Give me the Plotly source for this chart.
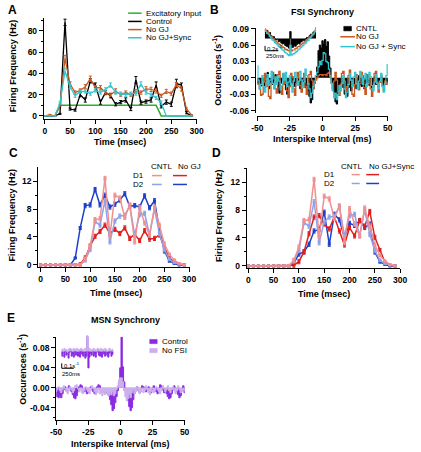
import plotly.graph_objects as go

W, H = 421, 452
FONT = "Liberation Sans, Arial, Helvetica, sans-serif"

# ---------------- DATA ----------------
TIME = list(range(0, 300, 10))

# Panel A
A_EXC = [0, 0, 0, 10, 10, 10, 10, 10, 10, 10, 10, 10, 10, 10, 10, 10, 10, 10, 10, 10, 10, 10, 10, 0, 0, 0, 0, 0, 0, 0]
A_CTRL = [0, 0, 0, 2, 88, 6.5, 5.5, 20, 15, 33, 29, 13, 22, 19, 11, 13, 15, 6.5, 34, 12.5, 13.5, 15, 29, 9, 13, 11, 30.5, 29, 3, 0]
A_NOGJ = [0, 1, 0, 10, 54, 30, 22, 24, 27.5, 35, 26.5, 26.5, 22, 20, 23.5, 20, 22, 20, 23, 22, 25.5, 25, 23.5, 19, 23, 21, 29.5, 25.5, 6.5, 1]
A_SYNC = [0, 0, 0, 12, 42, 27.5, 19, 23, 23, 21, 24, 22, 25, 29, 22, 21, 20, 21, 21, 30, 22, 20, 17, 12.5, 0, 0, 0, 0, 0, 0]
A_CTRL_ERR = [0, 0, 0, 0.5, 3, 1, 1, 2, 2, 2, 2, 2, 2, 2, 1.5, 1.5, 2, 1.5, 3, 1.5, 1.5, 2, 3, 1.5, 2, 2, 4, 2, 1, 0]
A_NOGJ_ERR = [0, 0.5, 0, 1, 3, 2, 1.5, 1.5, 2, 2.5, 2, 2, 1.5, 1.5, 2, 1.5, 1.5, 1.5, 2, 1.5, 2, 2, 2, 1.5, 2, 1.5, 2, 2, 1, 0]
A_SYNC_ERR = [0, 0, 0, 1, 3, 2, 1.5, 1.5, 1.5, 1.5, 1.5, 1.5, 1.5, 2, 1.5, 1.5, 1.5, 1.5, 1.5, 2, 1.5, 1.5, 1.5, 1.5, 0, 0, 0, 0, 0, 0]

# Panel B (ISI bins, ms)
ISI = list(range(-50, 51))
B_CNTL = [-0.008, -0.012, -0.006, -0.015, -0.004, -0.010, -0.018, 0.004, 0.010, -0.020,
          -0.008, -0.002, -0.012, -0.006, 0.006, -0.010, -0.016, -0.028, -0.010, -0.004,
          0.008, -0.012, -0.022, -0.030, -0.014, -0.006, 0.004, -0.010, -0.004, -0.016,
          -0.008, 0.002, -0.012, -0.020, -0.006, -0.014, -0.004, -0.018, -0.010, -0.024,
          -0.034, -0.046, -0.040, -0.020, -0.010, 0.004, 0.020, 0.050, 0.060, 0.055,
          0.068,
          0.062, 0.070, 0.058, 0.066, 0.040, 0.018, -0.004, -0.020, -0.028, -0.044,
          -0.048, -0.030, -0.014, -0.022, -0.008, -0.018, -0.030, -0.026, -0.034, -0.018,
          -0.010, -0.024, -0.014, -0.004, -0.012, -0.020, -0.008, 0.004, -0.012, -0.016,
          -0.006, -0.020, -0.010, 0.006, -0.008, -0.014, -0.004, -0.018, -0.010, 0.002,
          -0.012, -0.006, -0.016, -0.008, 0.004, -0.010, -0.014, -0.004, -0.010, -0.006]
B_NOGJ = [-0.005, -0.012, -0.020, -0.032, -0.030, -0.008, 0.008, -0.004, -0.015, -0.034,
          -0.038, -0.010, 0.010, -0.002, -0.020, -0.028, 0.006, 0.012, -0.018, -0.030,
          -0.012, 0.004, -0.010, -0.024, -0.036, -0.016, 0.008, 0.002, -0.020, -0.032,
          -0.010, 0.010, 0.000, -0.014, -0.026, -0.004, 0.008, -0.016, -0.030, -0.012,
          0.006, 0.012, -0.004, -0.020, -0.010, -0.004, 0.000, 0.004, 0.006, 0.006,
          0.004,
          0.006, 0.006, 0.004, 0.008, 0.010, 0.002, -0.010, -0.022, -0.006, 0.010,
          -0.004, -0.026, -0.032, -0.012, 0.008, 0.012, -0.006, -0.024, -0.016, 0.004,
          0.014, -0.004, -0.030, -0.034, -0.012, 0.006, -0.008, -0.022, -0.010, 0.010,
          0.004, -0.018, -0.030, -0.014, 0.006, -0.002, -0.020, -0.034, -0.016, 0.008,
          0.012, -0.010, -0.026, -0.008, 0.004, -0.014, -0.024, -0.006, -0.012, -0.008]
B_SYNC = [0.022, -0.004, -0.020, -0.012, 0.004, -0.016, -0.026, -0.008, 0.006, -0.014,
          -0.004, 0.012, -0.010, -0.020, 0.002, -0.012, 0.004, -0.006, -0.022, -0.014,
          0.008, -0.004, 0.010, -0.016, -0.008, 0.004, -0.012, -0.026, -0.006, 0.010,
          0.002, -0.014, -0.006, 0.012, -0.004, -0.018, -0.008, 0.016, 0.004, -0.010,
          -0.020, -0.036, -0.028, -0.016, -0.006, 0.004, 0.010, 0.020, 0.030, 0.024,
          0.032,
          0.046, 0.044, 0.030, 0.028, 0.016, 0.004, -0.010, -0.024, -0.036, -0.028,
          -0.040, -0.030, -0.014, -0.024, -0.010, 0.004, -0.020, -0.036, -0.026, -0.012,
          0.008, -0.004, -0.016, 0.002, 0.010, -0.010, -0.020, -0.006, 0.012, 0.004,
          -0.012, -0.002, 0.008, -0.016, -0.010, 0.010, 0.002, -0.014, -0.024, -0.008,
          0.006, -0.010, -0.020, -0.006, 0.008, -0.016, -0.026, -0.010, 0.004, 0.024]

# Panel B inset (long window, ms)
B_IN_T = list(range(-500, 501, 25))
B_IN_CNTL = [0.38, 0.30, 0.34, 0.22, 0.26, 0.12, 0.06, 0.08, -0.02, -0.06,
             -0.04, -0.14, -0.12, -0.20, -0.24, -0.22, -0.30, -0.34, -0.36, -0.42,
             0.30,
             -0.40, -0.38, -0.32, -0.34, -0.26, -0.22, -0.24, -0.16, -0.12, -0.08,
             -0.10, -0.02, 0.04, 0.02, 0.12, 0.18, 0.16, 0.28, 0.32, 0.44]
B_IN_NOGJ = [0.34, 0.36, 0.26, 0.24, 0.14, 0.10, 0.02, -0.02, -0.10, -0.12,
             -0.20, -0.24, -0.28, -0.32, -0.38, -0.40, -0.46, -0.48, -0.52, -0.54,
             -0.44,
             -0.54, -0.50, -0.50, -0.44, -0.42, -0.36, -0.34, -0.28, -0.24, -0.20,
             -0.16, -0.10, -0.06, 0.00, 0.06, 0.10, 0.18, 0.22, 0.30, 0.36]
B_IN_SYNC = [0.42, 0.30, 0.22, 0.18, 0.08, 0.02, -0.06, -0.10, -0.18, -0.22,
             -0.28, -0.34, -0.38, -0.44, -0.50, -0.54, -0.60, -0.64, -0.70, -0.74,
             -0.30,
             -0.72, -0.68, -0.66, -0.60, -0.56, -0.50, -0.46, -0.40, -0.36, -0.30,
             -0.24, -0.20, -0.12, -0.08, 0.00, 0.06, 0.12, 0.18, 0.28, 0.46]

# Panels C / D
CD_D1_CNTL = [0, 0, 0, 0, 0, 0, 0, 0, 0, 0.8, 2.7, 6.5, 6.6, 12.4, 4.2, 10.0, 9.6, 6.8, 8.6, 3.3, 8.2, 6.0, 4.3, 8.3, 5.7, 3.0, 1.5, 0.7, 0.2, 0]
CD_D2_CNTL = [0, 0, 0, 0, 0, 0, 0, 0, 0, 0.7, 2.2, 6.2, 5.7, 9.2, 3.3, 6.3, 7.0, 7.1, 8.5, 4.3, 7.2, 7.4, 4.3, 8.0, 4.5, 2.2, 0.8, 0.3, 0.1, 0]
C_D1_NOGJ = [0, 0, 0, 0, 0, 0, 0, 0, 0.1, 1.0, 2.7, 4.1, 4.8, 5.7, 4.5, 5.1, 4.5, 5.3, 3.8, 4.4, 3.5, 4.9, 3.7, 3.8, 4.3, 2.5, 1.0, 0.4, 0.1, 0]
C_D2_NOGJ = [0, 0, 0, 0, 0, 0, 0, 1.0, 5.3, 8.5, 8.6, 10.8, 8.6, 10.0, 8.3, 8.7, 9.3, 10.2, 8.4, 8.5, 8.3, 9.9, 8.2, 9.2, 5.0, 2.0, 0.6, 0.2, 0, 0]
D_D1_SYNC = [0, 0, 0, 0, 0, 0, 0, 0, 0, 0.1, 0.6, 2.0, 4.6, 7.0, 7.2, 6.0, 5.3, 7.0, 5.0, 3.0, 5.5, 4.3, 6.5, 5.7, 7.8, 4.1, 2.3, 0.5, 0.1, 0]
D_D2_SYNC = [0, 0, 0, 0, 0, 0, 0, 0, 0, 0.4, 1.7, 2.0, 3.1, 5.0, 5.2, 7.7, 3.1, 7.4, 6.6, 4.0, 6.1, 5.8, 6.5, 5.5, 6.0, 2.0, 0.6, 0.2, 0, 0]
CD_ERR = [0, 0, 0, 0, 0, 0, 0, 0.1, 0.2, 0.3, 0.3, 0.3, 0.3, 0.3, 0.3, 0.3, 0.3, 0.3, 0.3, 0.3, 0.3, 0.3, 0.3, 0.3, 0.3, 0.3, 0.2, 0.1, 0, 0]

# Panel E
E_CTRL = [-0.004, -0.018, -0.020, -0.016, -0.020, -0.012, -0.004, 0.002, -0.006, -0.004,
          0.004, -0.002, -0.008, -0.014, -0.020, -0.022, -0.016, -0.008, 0.002, 0.006,
          0.004, -0.004, -0.008, -0.006, -0.012, -0.010, -0.004, 0.002, -0.004, -0.008,
          -0.012, -0.008, 0.002, 0.006, 0.004, -0.004, -0.008, -0.004, -0.010, -0.006,
          -0.012, -0.016, -0.024, -0.034, -0.046, -0.042, -0.030, -0.018, -0.006, 0.012,
          0.040,
          0.102, 0.042, 0.012, -0.004, -0.014, -0.026, -0.038, -0.046, -0.040, -0.024,
          -0.012, -0.004, 0.002, -0.006, -0.010, -0.006, 0.004, 0.002, -0.004, -0.008,
          -0.004, 0.002, -0.006, -0.010, -0.004, 0.004, -0.002, -0.008, -0.012, -0.006,
          0.006, 0.004, -0.004, -0.010, -0.006, -0.012, -0.018, -0.022, -0.020, -0.012,
          -0.004, 0.004, -0.002, -0.008, -0.014, -0.020, -0.016, -0.006, 0.004, -0.010]
E_NOFSI = [-0.008, -0.004, 0.002, -0.006, -0.010, -0.004, 0.004, -0.002, -0.008, -0.012,
           -0.006, 0.002, -0.004, -0.010, -0.006, 0.004, 0.006, -0.002, -0.008, -0.004,
           -0.010, -0.012, -0.006, 0.002, -0.004, -0.008, -0.012, -0.006, 0.004, -0.002,
           -0.008, -0.014, -0.010, -0.004, -0.012, -0.008, -0.016, -0.010, -0.014, -0.008,
           -0.012, -0.016, -0.010, -0.014, -0.008, -0.016, -0.012, -0.004, 0.004, 0.016,
           0.020,
           0.020, 0.012, -0.006, -0.018, -0.026, -0.022, -0.014, -0.020, -0.010, -0.004,
           -0.012, -0.008, 0.002, -0.006, -0.012, -0.008, -0.002, -0.010, -0.006, 0.004,
           -0.004, -0.010, -0.014, -0.008, -0.002, -0.010, -0.006, 0.002, -0.004, -0.008,
           -0.012, -0.006, 0.004, -0.002, -0.008, -0.004, 0.004, -0.006, -0.010, -0.004,
           0.002, -0.006, -0.012, -0.006, 0.004, -0.004, -0.010, -0.008, -0.002, -0.006]
E_IN_T = list(range(-500, 501, 20))
E_IN_CTRL = [-0.04, -0.10, -0.02, -0.12, 0.02, -0.08, -0.04, -0.14, -0.02, 0.04,
             -0.10, -0.06, -0.12, 0.02, -0.08, -0.04, -0.10, -0.02, -0.12, 0.04,
             -0.06, -0.10, -0.02, -0.14, -0.10,
             0.30,
             -0.34, -0.12, -0.04, -0.08, 0.02,
             -0.10, -0.06, -0.12, -0.02, 0.04, -0.08, -0.10, -0.04, -0.12, 0.02,
             -0.06, -0.10, -0.02, -0.08, -0.12, -0.04, 0.02, -0.10, -0.06, -0.04]
E_IN_NOFSI = [0.02, 0.04, 0.00, 0.06, 0.02, 0.04, -0.02, 0.04, 0.06, 0.02,
              0.04, 0.00, 0.06, 0.02, 0.04, 0.06, 0.00, 0.04, 0.02, 0.06,
              0.02, 0.04, 0.00, 0.06, 0.04,
              0.32,
              0.02, 0.06, 0.04, 0.00, 0.04,
              0.06, 0.02, 0.04, 0.00, 0.06, 0.02, 0.04, 0.06, 0.00, 0.04,
              0.02, 0.06, 0.04, 0.00, 0.02, 0.06, 0.04, 0.02, 0.04, 0.02]

# Colours
GREEN = "#2DB02D"
ORANGE = "#C8561E"
CYAN = "#33C6D2"
LRED = "#F09090"
DRED = "#E0201E"
LBLUE = "#8FA2E8"
DBLUE = "#1C40C8"
PURPLE = "#8A2BE2"
LPURPLE = "#CBB0EC"

# ---------------- helpers ----------------
def fx(p):
    return p / W

def fy(p):
    return 1 - p / H

def dom_x(a, b):
    return [a / W, b / W]

def dom_y(top, bottom):
    return [1 - bottom / H, 1 - top / H]

def rng(pa, va, pb, vb, lo, hi):
    s = (vb - va) / (pb - pa)
    return [va + (lo - pa) * s, va + (hi - pa) * s]

TICKFONT = dict(family=FONT, size=8.5, color="black", weight="bold")

def axstyle(**kw):
    d = dict(showline=True, linecolor="black", linewidth=1, ticks="outside", ticklen=4,
             tickwidth=1, tickcolor="black", showgrid=False, zeroline=False,
             tickfont=TICKFONT, fixedrange=True, mirror=False)
    d.update(kw)
    return d

def hidden(**kw):
    d = dict(visible=False, showgrid=False, zeroline=False, fixedrange=True)
    d.update(kw)
    return d

def txt(x, y, s, size=8, bold=False, xanchor="center", yanchor="middle", angle=0):
    return dict(x=fx(x), y=fy(y), xref="paper", yref="paper", text=s, showarrow=False,
                font=dict(family=FONT, size=size, color="black",
                          weight="bold" if bold else "normal"),
                xanchor=xanchor, yanchor=yanchor, textangle=angle, borderpad=0)

def hseg(x0, x1, y, color, width=1.5):
    return dict(type="line", xref="paper", yref="paper", x0=fx(x0), x1=fx(x1),
                y0=fy(y), y1=fy(y), line=dict(color=color, width=width))

def vseg(x, y0, y1, color="black", width=1):
    return dict(type="line", xref="paper", yref="paper", x0=fx(x), x1=fx(x),
                y0=fy(y0), y1=fy(y1), line=dict(color=color, width=width))

def box(x0, x1, y0, y1, color):
    return dict(type="rect", xref="paper", yref="paper", x0=fx(x0), x1=fx(x1),
                y0=fy(y1), y1=fy(y0), fillcolor=color, line=dict(color=color, width=0.5))

fig = go.Figure()

# ---------------- Panel A ----------------
def a_trace(y, err, color, width=1.3):
    return go.Scatter(x=TIME, y=y, mode="lines", line=dict(color=color, width=width),
                      error_y=dict(type="data", array=err, color=color, thickness=1, width=1.5),
                      xaxis="x", yaxis="y", hoverinfo="skip")

fig.add_trace(go.Scatter(x=TIME, y=A_EXC, mode="lines", line=dict(color=GREEN, width=1.5),
                         xaxis="x", yaxis="y", hoverinfo="skip"))
fig.add_trace(a_trace(A_CTRL, A_CTRL_ERR, "black"))
fig.add_trace(a_trace(A_NOGJ, A_NOGJ_ERR, ORANGE))
fig.add_trace(a_trace(A_SYNC, A_SYNC_ERR, CYAN))

# ---------------- Panel B ----------------
fig.add_trace(go.Scatter(x=ISI, y=B_CNTL, mode="lines", line=dict(color="black", width=1, shape="hvh"),
                         fill="tozeroy", fillcolor="black", xaxis="x2", yaxis="y2", hoverinfo="skip"))
fig.add_trace(go.Scatter(x=ISI, y=B_NOGJ, mode="lines", line=dict(color=ORANGE, width=1.3, shape="hvh"),
                         xaxis="x2", yaxis="y2", hoverinfo="skip"))
fig.add_trace(go.Scatter(x=ISI, y=B_SYNC, mode="lines", line=dict(color=CYAN, width=1.2, shape="hvh"),
                         xaxis="x2", yaxis="y2", hoverinfo="skip"))
# inset
fig.add_trace(go.Scatter(x=B_IN_T, y=B_IN_CNTL, mode="lines", line=dict(color="black", width=1, shape="hvh"),
                         fill="tozeroy", fillcolor="black", xaxis="x3", yaxis="y3", hoverinfo="skip"))
fig.add_trace(go.Scatter(x=B_IN_T, y=B_IN_NOGJ, mode="lines", line=dict(color=ORANGE, width=1.2, shape="hvh"),
                         xaxis="x3", yaxis="y3", hoverinfo="skip"))
fig.add_trace(go.Scatter(x=B_IN_T, y=B_IN_SYNC, mode="lines", line=dict(color=CYAN, width=1.2, shape="hvh"),
                         xaxis="x3", yaxis="y3", hoverinfo="skip"))

# ---------------- Panels C / D ----------------
def cd_trace(y, color, xa, ya):
    return go.Scatter(x=TIME, y=y, mode="lines+markers", line=dict(color=color, width=1.5),
                      marker=dict(color=color, size=3, symbol="square"),
                      error_y=dict(type="data", array=CD_ERR, color=color, thickness=1, width=1.5),
                      xaxis=xa, yaxis=ya, hoverinfo="skip")

fig.add_trace(cd_trace(C_D2_NOGJ, DBLUE, "x4", "y4"))
fig.add_trace(cd_trace(C_D1_NOGJ, DRED, "x4", "y4"))
fig.add_trace(cd_trace(CD_D2_CNTL, LBLUE, "x4", "y4"))
fig.add_trace(cd_trace(CD_D1_CNTL, LRED, "x4", "y4"))

fig.add_trace(cd_trace(D_D2_SYNC, DBLUE, "x5", "y5"))
fig.add_trace(cd_trace(D_D1_SYNC, DRED, "x5", "y5"))
fig.add_trace(cd_trace(CD_D2_CNTL, LBLUE, "x5", "y5"))
fig.add_trace(cd_trace(CD_D1_CNTL, LRED, "x5", "y5"))

# ---------------- Panel E ----------------
fig.add_trace(go.Scatter(x=ISI, y=E_CTRL, mode="lines", line=dict(color=PURPLE, width=1, shape="hvh"),
                         fill="tozeroy", fillcolor=PURPLE, xaxis="x6", yaxis="y6", hoverinfo="skip"))
fig.add_trace(go.Scatter(x=ISI, y=E_NOFSI, mode="lines", line=dict(color=LPURPLE, width=1, shape="hvh"),
                         fill="tozeroy", fillcolor=LPURPLE, xaxis="x6", yaxis="y6", hoverinfo="skip"))
fig.add_trace(go.Scatter(x=E_IN_T, y=E_IN_CTRL, mode="lines", line=dict(color=PURPLE, width=1, shape="hvh"),
                         fill="tozeroy", fillcolor=PURPLE, xaxis="x7", yaxis="y7", hoverinfo="skip"))
fig.add_trace(go.Scatter(x=E_IN_T, y=E_IN_NOFSI, mode="lines", line=dict(color=LPURPLE, width=1, shape="hvh"),
                         fill="tozeroy", fillcolor=LPURPLE, xaxis="x7", yaxis="y7", hoverinfo="skip"))

# ---------------- Axes ----------------
layout = dict(
    width=W, height=H, margin=dict(l=0, r=0, t=0, b=0, pad=0),
    paper_bgcolor="white", plot_bgcolor="rgba(0,0,0,0)", showlegend=False,
    font=dict(family=FONT, color="black"),
)

# A
layout["xaxis"] = axstyle(domain=dom_x(39, 197), range=rng(40, 0, 196.7, 300, 39, 197),
                          tickvals=[0, 50, 100, 150, 200, 250, 300], anchor="y")
layout["yaxis"] = axstyle(domain=dom_y(14, 116.7), range=rng(113.7, 0, 27.3, 80, 116.7, 14),
                          tickvals=[0, 20, 40, 60, 80], anchor="x",
                          minor=dict(tickvals=[10, 30, 50, 70, 90], ticklen=2, ticks="outside", tickcolor="black"))
# B main
layout["xaxis2"] = axstyle(domain=dom_x(259.3, 394.5), range=[-50, 50.4], anchor="free", position=fy(114),
                           tickvals=[-50, -25, 0, 25, 50], ticktext=["-50", "-25", "0", "25", "50"])
layout["yaxis2"] = axstyle(domain=dom_y(24, 111), range=rng(75, 0, 25, 0.09, 111, 24),
                           anchor="free", position=fx(256.7),
                           tickvals=[0.09, 0.06, 0.03, 0, -0.03, -0.06],
                           ticktext=["0.09", "0.06", "0.03", "0.00", "-0.03", "-0.06"])
# B inset
layout["xaxis3"] = hidden(domain=dom_x(267, 320), range=[-500, 500], anchor="y3")
layout["yaxis3"] = hidden(domain=dom_y(23, 54), range=[-0.81, 0.51], anchor="x3")
# C
layout["xaxis4"] = axstyle(domain=dom_x(33.3, 189.5), range=rng(35.7, 0, 189, 300, 33.3, 189.5),
                           tickvals=[0, 50, 100, 150, 200, 250, 300], anchor="y4")
layout["yaxis4"] = axstyle(domain=dom_y(166, 267.3), range=rng(265, 0, 180, 12, 267.3, 166),
                           tickvals=[0, 4, 8, 12], anchor="x4",
                           minor=dict(tickvals=[2, 6, 10, 14], ticklen=2, ticks="outside", tickcolor="black"))
# D
layout["xaxis5"] = axstyle(domain=dom_x(248.3, 407), range=rng(250, 0, 406.7, 300, 248.3, 407),
                           tickvals=[0, 50, 100, 150, 200, 250, 300], anchor="y5")
layout["yaxis5"] = axstyle(domain=dom_y(166.7, 268.3), range=rng(266, 0, 181, 12, 268.3, 166.7),
                           tickvals=[0, 4, 8, 12], anchor="x5",
                           minor=dict(tickvals=[2, 6, 10, 14], ticklen=2, ticks="outside", tickcolor="black"))
# E main
layout["xaxis6"] = axstyle(domain=dom_x(51.7, 184.8), range=rng(51.7, -50, 184.3, 50, 51.7, 184.8),
                           anchor="y6", tickvals=[-50, -25, 0, 25, 50],
                           ticktext=["-50", "-25", "0", "25", "50"])
layout["yaxis6"] = axstyle(domain=dom_y(338, 422.7), range=rng(389.8, 0, 349.3, 0.08, 422.7, 338),
                           anchor="x6", tickvals=[0.08, 0.04, 0, -0.04],
                           ticktext=["0.08", "0.04", "0.00", "-0.04"],
                           minor=dict(tickvals=[0.1, 0.06, 0.02, -0.02, -0.06], ticklen=2,
                                      ticks="outside", tickcolor="black"))
# E inset
layout["xaxis7"] = hidden(domain=dom_x(57, 111), range=[-500, 500], anchor="y7")
layout["yaxis7"] = hidden(domain=dom_y(336, 372), range=[-0.386, 0.334], anchor="x7")

# ---------------- Text ----------------
ann = []
# panel letters
ann += [txt(6.5, 6, "A", 12, True), txt(215.5, 6, "B", 12, True), txt(8, 151, "C", 12, True),
        txt(217, 151, "D", 12, True), txt(5.5, 319, "E", 12, True)]
# titles
ann += [txt(326.7, 8.3, "FSI Synchrony", 9, True), txt(123.3, 320.7, "MSN Synchrony", 9, True)]
# axis titles
ann += [txt(118, 140.5, "Time (msec)", 9, True),
        txt(7.5, 63, "Firing Frequency (Hz)", 9, True, angle=-90),
        txt(326.7, 136.7, "Interspike Interval (ms)", 9, True),
        txt(218, 67.5, "Occurences (s<sup>-1</sup>)", 9, True, angle=-90),
        txt(114, 293.5, "Time (msec)", 9, True),
        txt(6, 214, "Firing Frequency (Hz)", 9, True, angle=-90),
        txt(328, 294.5, "Time (msec)", 9, True),
        txt(219, 215, "Firing Frequency (Hz)", 9, True, angle=-90),
        txt(118.3, 446.5, "Interspike Interval (ms)", 9, True),
        txt(17, 371, "Occurences (s<sup>-1</sup>)", 9, True, angle=-90)]

shapes = []
# Legend A
for yy, lab, col in [(9.3, "Excitatory Input", GREEN), (17.7, "Control", "black"),
                     (26, "No GJ", ORANGE), (34.3, "No GJ+Sync", CYAN)]:
    shapes.append(hseg(126, 140, yy, col, 1.5))
    ann.append(txt(143, yy, lab, 8, xanchor="left"))

# Legend B
shapes.append(box(348.5, 356.5, 22.7, 27.3, "black"))
ann.append(txt(360, 25, "CNTL", 8, xanchor="left"))
shapes.append(hseg(345, 360, 33.3, ORANGE, 1.5))
ann.append(txt(360, 33.3, "No GJ", 8, xanchor="left"))
shapes.append(hseg(345, 360, 43.3, CYAN, 1.5))
ann.append(txt(360, 43.3, "No GJ + Sync", 8, xanchor="left"))

# Scale bar B inset
shapes.append(vseg(267.3, 42.5, 47.5))
shapes.append(hseg(267.3, 281, 47.5, "black", 1))
ann.append(txt(268.8, 44.5, "0.2s<sup>-1</sup>", 6, xanchor="left"))
ann.append(txt(267, 53, "250ms", 6, xanchor="left"))

# Legend C
ann += [txt(160, 165, "CNTL", 8), txt(189, 165, "No GJ", 8),
        txt(137, 174.5, "D1", 8), txt(137, 183.3, "D2", 8)]
shapes += [hseg(150.7, 160.7, 174.3, LRED, 1.5), hseg(172.3, 186.7, 174.3, DRED, 1.5),
           hseg(150.7, 160.7, 183.3, LBLUE, 1.5), hseg(172.3, 186.7, 183.3, DBLUE, 1.5)]

# Legend D
ann += [txt(356.7, 165, "CNTL", 8), txt(373.3, 165, "No GJ+Sync", 8, xanchor="left"),
        txt(333.3, 173.3, "D1", 8), txt(333.3, 182.3, "D2", 8)]
shapes += [hseg(356.7, 365, 173.3, LRED, 1.5), hseg(371.7, 385, 173.3, DRED, 1.5),
           hseg(356.7, 365, 182.3, LBLUE, 1.5), hseg(371.7, 385, 182.3, DBLUE, 1.5)]

# Legend E
shapes.append(box(148.3, 156, 340.7, 345, PURPLE))
ann.append(txt(160, 342.8, "Control", 8, xanchor="left"))
shapes.append(box(148.3, 156, 349.8, 354.2, LPURPLE))
ann.append(txt(160, 352, "No FSI", 8, xanchor="left"))

# Scale bar E inset
shapes.append(vseg(57.5, 365, 370))
shapes.append(hseg(57.5, 70, 370, "black", 1))
ann.append(txt(58.8, 367, "0.1s<sup>-1</sup>", 6, xanchor="left"))
ann.append(txt(57, 375.5, "250ms", 6, xanchor="left"))

layout["annotations"] = ann
layout["shapes"] = shapes
fig.update_layout(**layout)

fig.write_html("out.html", config={"displayModeBar": False, "staticPlot": True},
               post_script="document.body.style.margin='0px';document.body.style.padding='0px';")
